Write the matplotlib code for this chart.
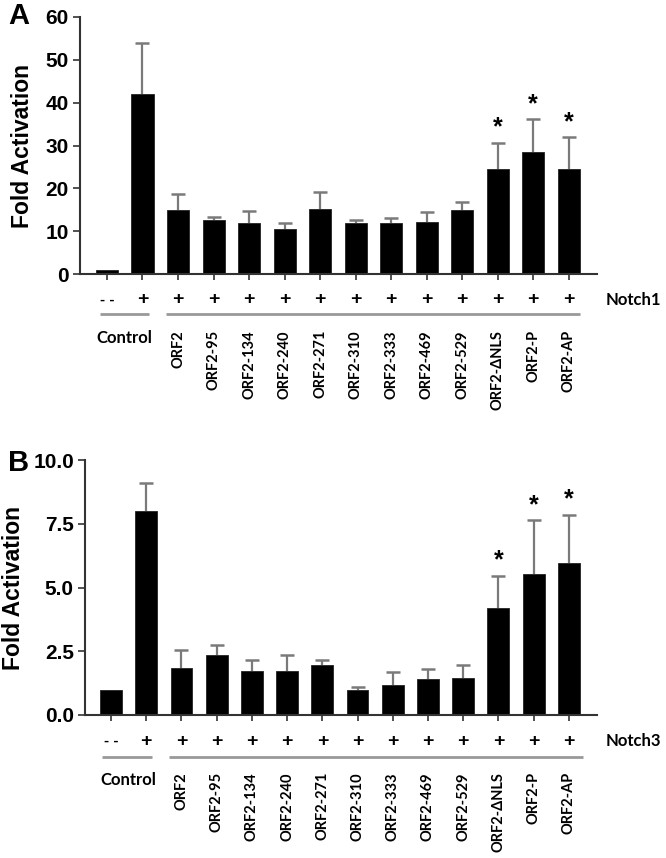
import numpy as np
import matplotlib.pyplot as plt

groups = ["ORF2", "ORF2-95", "ORF2-134", "ORF2-240", "ORF2-271", "ORF2-310",
          "ORF2-333", "ORF2-469", "ORF2-529", "ORF2-\u0394NLS", "ORF2-P", "ORF2-AP"]
signs = ["- -"] + ["+"] * 13

# panel A, Notch1
notch1_mean = [1.0, 42.0, 14.9, 12.5, 12.0, 10.4, 15.2, 11.8, 11.8, 12.1, 15.0, 24.5, 28.5, 24.5]
notch1_err = [0.0, 12.0, 3.8, 0.7, 2.7, 1.4, 4.0, 0.7, 1.3, 2.3, 1.9, 6.1, 7.6, 7.4]
# panel B, Notch3
notch3_mean = [1.0, 8.0, 1.84, 2.34, 1.71, 1.73, 1.95, 0.98, 1.17, 1.41, 1.46, 4.21, 5.53, 5.98]
notch3_err = [0.0, 1.09, 0.71, 0.42, 0.43, 0.63, 0.21, 0.10, 0.52, 0.40, 0.52, 1.26, 2.10, 1.88]
starred = [11, 12, 13]

W, H = 666, 858
fig = plt.figure(figsize=(W / 100, H / 100), dpi=100)

lab_font = ["Lato", "DejaVu Sans"]


def panel(rect, means, errs, ymax, yticks, yticklabels, letter, notch, geo):
    ax = fig.add_axes(rect)
    x = np.arange(len(means))
    means = np.array(means)
    errs = np.array(errs)
    ax.bar(x, means, width=0.62, color="black", edgecolor="#222222", linewidth=0.6, zorder=2)
    # upper error bars only
    has = errs > 0
    ax.vlines(x[has], means[has], means[has] + errs[has], color="#7a7a7a", lw=1.6, zorder=1)
    ax.plot(x[has], means[has] + errs[has], ls="none", marker="_", markersize=10,
            markeredgewidth=1.8, color="#7a7a7a", zorder=1)
    for i in starred:
        ax.annotate("*", xy=(x[i], means[i] + errs[i]), xytext=(0, 11),
                    textcoords="offset points", ha="center", va="center",
                    fontsize=18, fontweight="bold", family="Liberation Sans")
    ax.set_xlim(geo["xlim"])
    ax.set_ylim(0, ymax)
    ax.set_yticks(yticks)
    ax.set_yticklabels(yticklabels, fontsize=15, fontweight="bold", family="Liberation Sans")
    ax.set_xticks(x)
    ax.set_xticklabels([])
    ax.tick_params(axis="x", length=4, width=1.2, color="#333333", direction="out")
    ax.tick_params(axis="y", length=5, width=1.2, color="#333333", pad=3)
    for s in ["top", "right"]:
        ax.spines[s].set_visible(False)
    for s in ["left", "bottom"]:
        ax.spines[s].set_linewidth(1.5)
        ax.spines[s].set_color("#333333")
    ax.set_ylabel("Fold Activation", fontsize=16.5, fontweight="bold",
                  family="Liberation Sans", labelpad=geo["labelpad"])

    tr = ax.get_xaxis_transform()
    for i, s in enumerate(signs):
        ax.text(x[i], geo["sign_y"], s, transform=tr, ha="center", va="center",
                fontsize=14 if s == "+" else 11, fontweight="bold",
                family="Liberation Sans", clip_on=False)
    ax.text(geo["notch_x"], geo["sign_y"], notch, transform=tr, ha="left", va="center",
            fontsize=12, fontweight="bold", family=lab_font, clip_on=False)
    ax.plot(geo["ctrl_line"], [geo["line_y"]] * 2, transform=tr, color="#999999",
            lw=2, clip_on=False, solid_capstyle="butt")
    ax.plot(geo["orf_line"], [geo["line_y"]] * 2, transform=tr, color="#999999",
            lw=2, clip_on=False, solid_capstyle="butt")
    ax.text(0.5, geo["ctrl_y"], "Control", transform=tr, ha="center", va="center",
            fontsize=12, fontweight="bold", family=lab_font, clip_on=False)
    for i, g in enumerate(groups):
        ax.text(x[i + 2], geo["lab_y"], g, transform=tr, ha="center", va="top",
                rotation=90, fontsize=10.5, fontweight="bold", family=lab_font, clip_on=False)
    fig.text(geo["letter_xy"][0], geo["letter_xy"][1], letter, fontsize=21,
             fontweight="bold", family="Liberation Sans", ha="left", va="center")
    return ax


geoA = dict(xlim=(-0.76, 13.8), labelpad=8, sign_y=-0.101, line_y=-0.156,
            ctrl_y=-0.249, lab_y=-0.218, notch_x=14.05,
            ctrl_line=[-0.2, 1.18], orf_line=[1.66, 13.32], letter_xy=(0.012, 1 - 16 / H))
geoB = dict(xlim=(-0.74, 13.8), labelpad=6, sign_y=-0.102, line_y=-0.165,
            ctrl_y=-0.255, lab_y=-0.224, notch_x=14.05,
            ctrl_line=[-0.26, 1.16], orf_line=[1.65, 13.4], letter_xy=(0.012, 1 - 463 / H))

panel([80 / W, 1 - 274 / H, 517 / W, 257 / H], notch1_mean, notch1_err, 60,
      [0, 10, 20, 30, 40, 50, 60], ["0", "10", "20", "30", "40", "50", "60"], "A", "Notch1", geoA)
panel([85 / W, 1 - 715 / H, 512 / W, 255 / H], notch3_mean, notch3_err, 10,
      [0, 2.5, 5, 7.5, 10], ["0.0", "2.5", "5.0", "7.5", "10.0"], "B", "Notch3", geoB)

fig.savefig("out.png", dpi=100)
